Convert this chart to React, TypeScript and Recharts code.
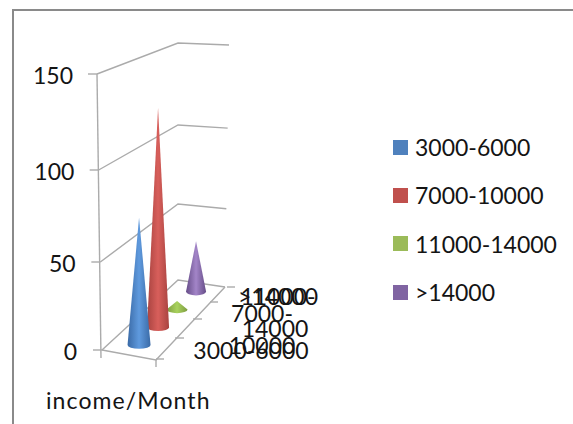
import { Bar, CartesianGrid, ComposedChart, Label, Legend, XAxis, YAxis } from "recharts"

const seriesNames = ["3000-6000", "7000-10000", "11000-14000", ">14000"]
const seriesValues = [70, 125, 5, 31]
const valueTicks = [0, 50, 100, 150]
const axisTitle = "income/Month"

const seriesColors = ["#4f81bd", "#c0504d", "#9bbb59", "#8064a2"]
const coneShades = [
  ["#3a6aa6", "#5f9ade"],
  ["#a84340", "#d85f5b"],
  ["#7d9c40", "#a9d25e"],
  ["#664d88", "#a385c8"],
]

// one row per series, the other columns stay empty so the stack keeps one bar per band
const rows = seriesNames.map((name, i) => ({ name, [name]: seriesValues[i] }))

const PLOT_TOP = 74
const PLOT_BOTTOM = 350
const FONT = "Lato, 'Open Sans', sans-serif"
const TEXT_SIZE = 23
const TEXT_COLOR = "#141414"
const WALL_COLOR = "#ababab"

const DEPTH_STEP = 17.8
const FRONT_LIFT = 5

const lerp = (a: number, b: number, t: number) => a + (b - a) * t
const heightRatio = (y: number) => (PLOT_BOTTOM - y) / (PLOT_BOTTOM - PLOT_TOP)

// left edge of the side wall, slightly bowed because of the perspective
const wallPoint = (y: number) => {
  const t = heightRatio(y)
  return { x: lerp(102, 97, t), y: y + 18 * t * (1 - t), t }
}

function WallLine(props: any) {
  const { x: lx, y: ly, t } = wallPoint(props.y1)
  const bx = 178
  const by = lerp(280, 43, t) + 13.5 * t * (1 - t)
  const rx = lerp(225, 229, t)
  const ry = lerp(287, 45, t) + 11 * t * (1 - t)
  return (
    <polyline
      points={`${lx},${ly} ${bx},${by} ${rx},${ry}`}
      fill="none"
      stroke={WALL_COLOR}
      strokeWidth={1.4}
    />
  )
}

function ValueTick(props: any) {
  const { x, y, t } = wallPoint(props.y)
  return (
    <g>
      <line x1={x - 9} y1={y} x2={x} y2={y} stroke={WALL_COLOR} strokeWidth={1.4} />
      <text
        x={lerp(77, 73, t)}
        y={y + 1}
        textAnchor="end"
        dominantBaseline="central"
        fontFamily={FONT}
        fontSize={TEXT_SIZE}
        fill={TEXT_COLOR}
      >
        {props.payload.value}
      </text>
    </g>
  )
}

// wrapped depth labels, the excel layout lets them run over each other
const depthLabels = [
  [{ text: "3000-6000", x: 251, y: 350 }],
  [
    { text: "7000-", x: 262, y: 313 },
    { text: "10000", x: 262, y: 345 },
  ],
  [
    { text: "11000-", x: 278, y: 296 },
    { text: "14000", x: 275, y: 328 },
  ],
  [{ text: ">14000", x: 278, y: 296 }],
]

function DepthTick(props: any) {
  return (
    <g>
      {depthLabels[props.index].map((line) => (
        <text
          key={line.text}
          x={line.x}
          y={line.y}
          textAnchor="middle"
          dominantBaseline="central"
          fontFamily={FONT}
          fontSize={TEXT_SIZE}
          fill={TEXT_COLOR}
        >
          {line.text}
        </text>
      ))}
    </g>
  )
}

function Cone(props: any) {
  const { x, width, height, index } = props
  if (!height || height <= 0) return null
  const lift = FRONT_LIFT + index * DEPTH_STEP
  const shrink = 1 - 0.14 * (lift / 70)
  const cx = x + width / 2
  const base = PLOT_BOTTOM - lift
  const apex = base - height * shrink
  const rx = 11.5 - index * 0.5
  return (
    <path
      d={`M${cx - rx},${base} L${cx},${apex} L${cx + rx},${base} A${rx},3.8 0 0 1 ${cx - rx},${base} Z`}
      fill={`url(#cone-${index})`}
    />
  )
}

function FloorFrame() {
  const edge = `102,350 156,360 225,287`
  const sideTicks = [
    [175, 338, 184],
    [193, 319, 202],
    [210, 302, 218],
    [227, 287, 235],
  ]
  return (
    <g stroke={WALL_COLOR} strokeWidth={1.4} fill="none">
      <polyline points={edge} />
      <line x1={97} y1={74} x2={101} y2={358} />
      <line x1={156} y1={360} x2={156} y2={367} />
      <line x1={156} y1={359} x2={164} y2={359} />
      {sideTicks.map(([x1, y, x2]) => (
        <line key={y} x1={x1} y1={y} x2={x2} y2={y} />
      ))}
    </g>
  )
}

function LegendList() {
  return (
    <div style={{ width: 170, fontFamily: FONT, fontSize: TEXT_SIZE, color: TEXT_COLOR }}>
      {seriesNames.map((name, i) => (
        <div key={name} style={{ display: "flex", alignItems: "center", height: 48.3, whiteSpace: "nowrap" }}>
          <span style={{ width: 15, height: 15, marginRight: 7, background: seriesColors[i] }} />
          {name}
        </div>
      ))}
    </div>
  )
}

export default function App() {
  return (
    <div style={{ position: "absolute", left: 0, top: 0, width: 573, height: 424, overflow: "hidden", background: "#fff" }}>
      <div
        style={{
          position: "absolute",
          left: 12,
          top: 9,
          width: 561,
          height: 415,
          borderLeft: "2px solid #8a8a8a",
          borderTop: "2px solid #8a8a8a",
        }}
      />
      <ComposedChart
        width={573}
        height={424}
        data={rows}
        margin={{ top: PLOT_TOP, right: 367.5, bottom: 424 - PLOT_BOTTOM - 30, left: 69.5 }}
        barCategoryGap={0}
        style={{ position: "absolute", left: 0, top: 0 }}
      >
        <defs>
          {coneShades.map(([edge, mid], i) => (
            <linearGradient key={i} id={`cone-${i}`} x1="0" y1="0" x2="1" y2="0">
              <stop offset="0%" stopColor={edge} />
              <stop offset="50%" stopColor={mid} />
              <stop offset="100%" stopColor={edge} />
            </linearGradient>
          ))}
        </defs>
        <CartesianGrid vertical={false} horizontal={(p: any) => <WallLine key={p.y1} {...p} />} />
        <FloorFrame />
        <XAxis dataKey="name" height={30} axisLine={false} tickLine={false} interval={0} tick={(p: any) => <DepthTick {...p} />}>
          <Label
            content={() => (
              <text
                x={46}
                y={400}
                dominantBaseline="central"
                fontFamily={FONT}
                fontSize={TEXT_SIZE}
                letterSpacing={1.1}
                fill={TEXT_COLOR}
              >
                {axisTitle}
              </text>
            )}
          />
        </XAxis>
        <YAxis
          type="number"
          width={60}
          domain={[0, 150]}
          ticks={valueTicks}
          axisLine={false}
          tickLine={false}
          interval={0}
          tick={(p: any) => <ValueTick {...p} />}
        />
        <Legend
          layout="vertical"
          align="right"
          verticalAlign="top"
          content={() => <LegendList />}
          wrapperStyle={{ left: 393, top: 123, width: 0, height: 0 }}
        />
        {[...seriesNames].reverse().map((name) => (
          <Bar
            key={name}
            dataKey={name}
            stackId="cones"
            barSize={21}
            isAnimationActive={false}
            shape={(p: any) => <Cone {...p} />}
          />
        ))}
      </ComposedChart>
    </div>
  )
}
